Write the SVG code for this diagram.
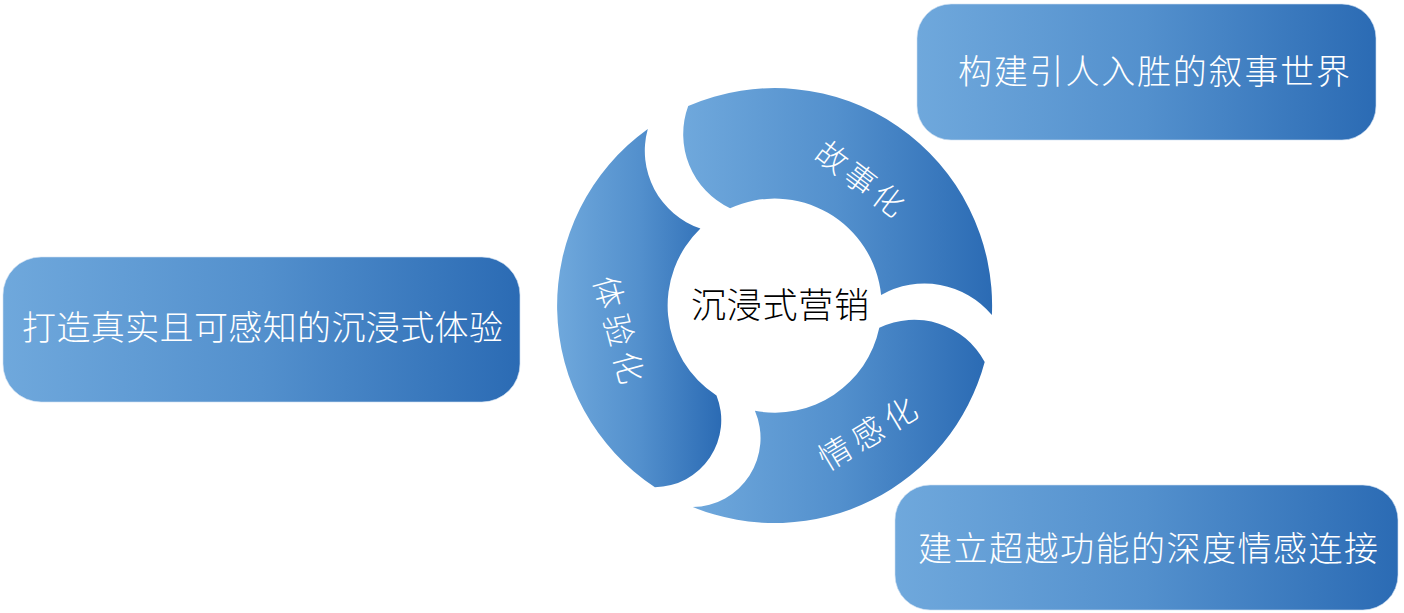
<svg xmlns="http://www.w3.org/2000/svg" width="1404" height="613" viewBox="0 0 1404 613">
<defs>
<linearGradient id="blue" x1="0" y1="0" x2="1" y2="0">
<stop offset="0" stop-color="#6fa8dc"/>
<stop offset="0.5" stop-color="#5390cd"/>
<stop offset="1" stop-color="#2b6bb4"/>
</linearGradient>
<style>
.seg{fill:url(#blue);}
.box{fill:url(#blue);stroke:#cfe0f2;stroke-width:1;stroke-opacity:0.6;}
.t{font-family:"Noto Sans CJK SC","Noto Sans CJK JP",sans-serif;fill:#ffffff;font-weight:300;}
.c{font-family:"Noto Sans CJK SC","Noto Sans CJK JP",sans-serif;fill:#000000;font-weight:300;}
</style>
</defs>
<rect width="1404" height="613" fill="#ffffff"/>
<g id="segment-story">
<path class="seg" d="M 688.2 106.0 A 217.5 217.5 0 0 1 991.9 315.1 A 88 88 0 0 0 881.1 295.0 A 107 107 0 0 0 730.1 208.3 A 82 82 0 0 1 688.2 106.0 Z"/>
<text class="t" font-size="31" text-anchor="middle" transform="translate(860 179) rotate(37)" x="0" y="11" textLength="102" lengthAdjust="spacing">故事化</text>
</g>
<g id="segment-emotion">
<path class="seg" d="M 984.7 361.9 A 217.5 217.5 0 0 1 692.8 507.1 A 69 69 0 0 0 754.9 410.8 A 107 107 0 0 0 879.3 327.8 A 80 80 0 0 1 984.7 361.9 Z"/>
<text class="t" font-size="32" text-anchor="middle" transform="translate(868 434) rotate(-31)" x="0" y="11" textLength="108" lengthAdjust="spacing">情感化</text>
</g>
<g id="segment-experience">
<path class="seg" d="M 654.9 487.2 A 217.5 217.5 0 0 1 647.8 128.9 A 82 82 0 0 0 700.4 228.5 A 107 107 0 0 0 716.5 395.4 A 67 67 0 0 1 654.9 487.2 Z"/>
<text class="t" font-size="32" text-anchor="middle" transform="translate(618 330) rotate(75)" x="0" y="11" textLength="110" lengthAdjust="spacing">体验化</text>
</g>
<g id="center">
<text class="c" font-size="35" x="691" y="318" textLength="178" lengthAdjust="spacing">沉浸式营销</text>
</g>
<g id="box-story">
<rect class="box" x="917" y="4" width="459" height="136" rx="34" ry="34"/>
<text class="t" font-size="34" x="958" y="84" textLength="392" lengthAdjust="spacing">构建引人入胜的叙事世界</text>
</g>
<g id="box-experience">
<rect class="box" x="3" y="257" width="517" height="145" rx="38" ry="38"/>
<text class="t" font-size="34" x="22" y="340" textLength="481" lengthAdjust="spacing">打造真实且可感知的沉浸式体验</text>
</g>
<g id="box-emotion">
<rect class="box" x="895" y="485" width="503" height="125" rx="35" ry="35"/>
<text class="t" font-size="34" x="918" y="561" textLength="460" lengthAdjust="spacing">建立超越功能的深度情感连接</text>
</g>
<g id="connectors"></g>
</svg>
